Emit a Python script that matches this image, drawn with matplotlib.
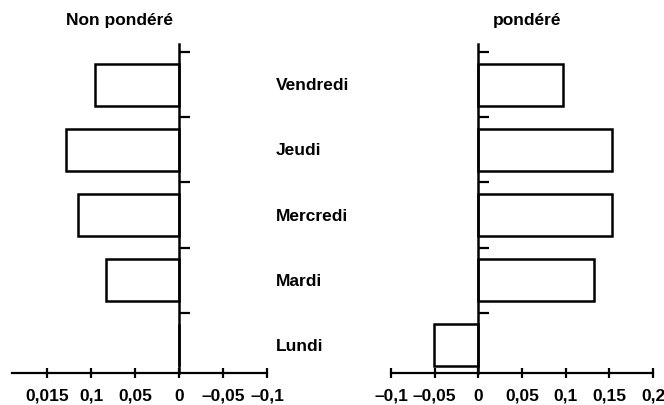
import matplotlib
matplotlib.use('Agg')
import matplotlib.pyplot as plt

plt.rcParams['font.family'] = ['Liberation Sans', 'DejaVu Sans']
plt.rcParams['font.weight'] = 'bold'

# jours, du bas vers le haut
jours = ['Lundi', 'Mardi', 'Mercredi', 'Jeudi', 'Vendredi']
non_pondere = [0.0, 0.083, 0.115, 0.128, 0.095]
pondere = [-0.051, 0.132, 0.153, 0.153, 0.097]

ticks_gauche = [0.15, 0.1, 0.05, 0, -0.05, -0.1]
labels_gauche = ['0,015', '0,1', '0,05', '0', '–0,05', '–0,1']
ticks_droite = [-0.1, -0.05, 0, 0.05, 0.1, 0.15, 0.2]
labels_droite = ['–0,1', '–0,05', '0', '0,05', '0,1', '0,15', '0,2']

W, H = 664, 406
fig = plt.figure(figsize=(W / 100, H / 100), dpi=100)


def px_axes(x0, x1, ytop, ybot):
    return fig.add_axes([x0 / W, 1 - ybot / H, (x1 - x0) / W, (ybot - ytop) / H])


def style(ax, xlim, bounds, ticks, labels):
    ax.set_xlim(*xlim)
    ax.set_ylim(-0.43, 4.63)
    for s in ['top', 'right']:
        ax.spines[s].set_visible(False)
    ax.spines['left'].set_position(('data', 0))
    ax.spines['left'].set_linewidth(1.8)
    ax.spines['bottom'].set_linewidth(1.6)
    ax.spines['bottom'].set_bounds(*bounds)
    ax.set_yticks([0.5, 1.5, 2.5, 3.5, 4.5])
    ax.set_yticklabels([])
    ax.tick_params(axis='y', direction='in', length=8, width=1.6)
    ax.set_xticks(ticks)
    ax.set_xticklabels(labels, fontsize=12.5, fontweight='bold')
    ax.tick_params(axis='x', direction='inout', length=7, width=1.6, pad=7)


y = list(range(len(jours)))

ax1 = px_axes(3, 267, 45, 374)
ax1.barh(y, non_pondere, height=0.66, color='white', edgecolor='black', linewidth=1.8)
style(ax1, (0.2, -0.1), (0.19, -0.1), ticks_gauche, labels_gauche)

ax2 = px_axes(391, 653, 45, 374)
ax2.barh(y, pondere, height=0.66, color='white', edgecolor='black', linewidth=1.8)
style(ax2, (-0.1, 0.2), (-0.1, 0.2), ticks_droite, labels_droite)
ax2.set_xticklabels(labels_droite, fontsize=12.5, fontweight='bold', clip_on=False)

# noms des jours entre les deux panneaux
for i, j in enumerate(jours):
    ax1.annotate(j, xy=(1, i), xycoords=('axes fraction', 'data'),
                 xytext=(276 - 267, 0), textcoords='offset pixels',
                 ha='left', va='center', fontsize=12.5, fontweight='bold')

fig.text(120 / W, 1 - 21 / H, 'Non pondéré', ha='center', va='center',
         fontsize=12.5, fontweight='bold')
fig.text(527 / W, 1 - 21 / H, 'pondéré', ha='center', va='center',
         fontsize=12.5, fontweight='bold')

fig.savefig('out.png', dpi=100)
